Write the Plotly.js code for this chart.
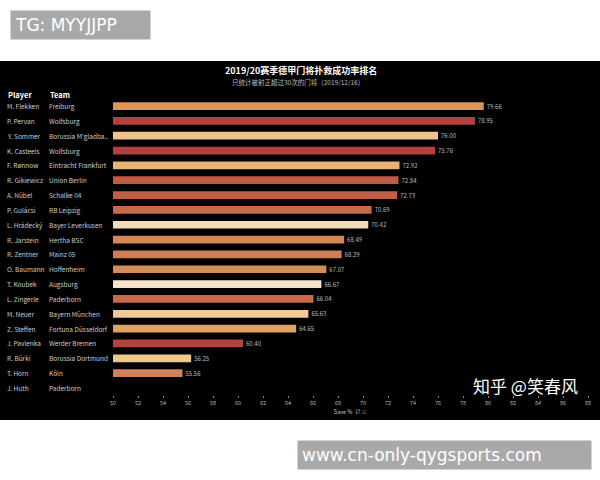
<!DOCTYPE html>
<html>
<head>
<meta charset="utf-8">
<script src="https://cdn.plot.ly/plotly-3.0.1.min.js"></script>
<style>html,body{margin:0;padding:0;background:#fff;}#chart{width:600px;height:480px;}</style>
</head>
<body>
<div id="chart"></div>
<script>
const players = ["M. Flekken","P. Pervan","Y. Sommer","K. Casteels","F. Rønnow","R. Gikiewicz","A. Nübel","P. Gulácsi","L. Hrádecký","R. Jarstein","R. Zentner","O. Baumann","T. Koubek","L. Zingerle","M. Neuer","Z. Steffen","J. Pavlenka","R. Bürki","T. Horn","J. Huth"];
const teams = ["Freiburg","Wolfsburg","Borussia M'gladba..","Wolfsburg","Eintracht Frankfurt","Union Berlin","Schalke 04","RB Leipzig","Bayer Leverkusen","Hertha BSC","Mainz 05","Hoffenheim","Augsburg","Paderborn","Bayern München","Fortuna Düsseldorf","Werder Bremen","Borussia Dortmund","Köln","Paderborn"];
const savePct = [79.66,78.95,76.00,75.76,72.92,72.84,72.73,70.69,70.42,68.49,68.29,67.07,66.67,66.04,65.63,64.65,60.40,56.25,55.56,null];
const barColors = ["#D9965A","#B5413F","#EFC48A","#B2403E","#E8B270","#C05A44","#C25E45","#C76A4A","#F3DDB8","#D48855","#CE7E52","#D48C58","#F5E3C8","#C86A4A","#EFCB94","#DFA262","#B3433D","#EFC88E","#D0825A","#000000"];
const xTicks = [50,52,54,56,58,60,62,64,66,68,70,72,74,76,78,80,82,84,86,88];
const axisStart = 50;

const W = 600, H = 480;
const px = v => v / W;
const py = v => 1 - v / H;
const font = "'Noto Sans CJK SC', 'Noto Sans', sans-serif";

const trace = {
  type: 'bar',
  orientation: 'h',
  base: axisStart,
  x: savePct.map(v => v == null ? null : v - axisStart),
  y: players,
  width: 0.52,
  marker: {color: barColors, line: {width: 0}},
  text: savePct.map(v => v == null ? '' : v.toFixed(2)),
  textposition: 'outside',
  constraintext: 'none',
  cliponaxis: false,
  textfont: {family: font, size: 6, color: '#bbbbbb'},
  hoverinfo: 'skip'
};

const annotations = [];
annotations.push({xref:'paper', yref:'paper', x:px(6), y:py(95), xanchor:'left', yanchor:'middle', text:'<b>Player</b>', showarrow:false, font:{family:font, size:7.5, color:'#ffffff'}});
annotations.push({xref:'paper', yref:'paper', x:px(48), y:py(95), xanchor:'left', yanchor:'middle', text:'<b>Team</b>', showarrow:false, font:{family:font, size:7.5, color:'#ffffff'}});
players.forEach((p, i) => {
  annotations.push({xref:'paper', yref:'y', x:px(5), y:p, xanchor:'left', yanchor:'middle', text:p, showarrow:false, font:{family:font, size:6.5, color:'#cccccc'}});
  annotations.push({xref:'paper', yref:'y', x:px(47), y:p, xanchor:'left', yanchor:'middle', text:teams[i], showarrow:false, font:{family:font, size:6.5, color:'#cccccc'}});
});
annotations.push({xref:'paper', yref:'paper', x:px(301), y:py(70.5), xanchor:'center', yanchor:'middle', text:'<b>2019/20赛季德甲门将扑救成功率排名</b>', showarrow:false, font:{family:font, size:9, color:'#ffffff'}});
annotations.push({xref:'paper', yref:'paper', x:px(298), y:py(81.5), xanchor:'center', yanchor:'middle', text:'只统计被射正超过30次的门将（2019/12/16）', showarrow:false, font:{family:font, size:6.5, color:'#bbbbbb'}});
annotations.push({xref:'paper', yref:'paper', x:px(10), y:py(25), xanchor:'left', yanchor:'middle', text:'TG: MYYJJPP', showarrow:false, bgcolor:'#a9a9a9', borderpad:4, width:131, align:'left', font:{family:"'DejaVu Sans', sans-serif", size:17, color:'#ffffff'}});
annotations.push({xref:'paper', yref:'paper', x:px(297), y:py(455), xanchor:'left', yanchor:'middle', text:'www.cn-only-qygsports.com', showarrow:false, bgcolor:'#a9a9a9', borderpad:4, width:285, align:'left', font:{family:"'DejaVu Sans', sans-serif", size:17, color:'#ffffff'}});
annotations.push({xref:'paper', yref:'paper', x:px(472), y:py(385), xanchor:'left', yanchor:'middle', text:'知乎 @笑春风', showarrow:false, borderpad:0, font:{family:font, size:17, color:'#ffffff'}});

const layout = {
  width: W, height: H,
  margin: {l:0, r:0, t:0, b:0},
  paper_bgcolor: '#ffffff',
  plot_bgcolor: 'rgba(0,0,0,0)',
  showlegend: false,
  xaxis: {
    domain: [px(113), px(588)],
    range: [50, 88],
    tickvals: xTicks,
    ticktext: xTicks.map(String),
    showgrid: false, zeroline: false, showline: false,
    ticks: 'outside', ticklen: 2, tickcolor: '#888888', tickwidth: 1,
    tickfont: {family: font, size: 5.5, color: '#bbbbbb'},
    title: {text: 'Save %  ⇵ ≡', font: {family: font, size: 5.5, color: '#cccccc'}, standoff: 4},
    fixedrange: true
  },
  yaxis: {
    domain: [py(395.4), py(98.6)],
    type: 'category',
    categoryorder: 'array',
    categoryarray: players,
    range: [19.5, -0.5],
    showticklabels: false, showgrid: false, zeroline: false, showline: false, ticks: '',
    fixedrange: true
  },
  shapes: [
    {type:'rect', xref:'paper', yref:'paper', x0:0, x1:1, y0:py(420), y1:py(61), fillcolor:'#000000', line:{width:0}, layer:'below'}
  ],
  annotations: annotations
};

Plotly.newPlot('chart', [trace], layout, {displayModeBar:false, staticPlot:true});
</script>
</body>
</html>
